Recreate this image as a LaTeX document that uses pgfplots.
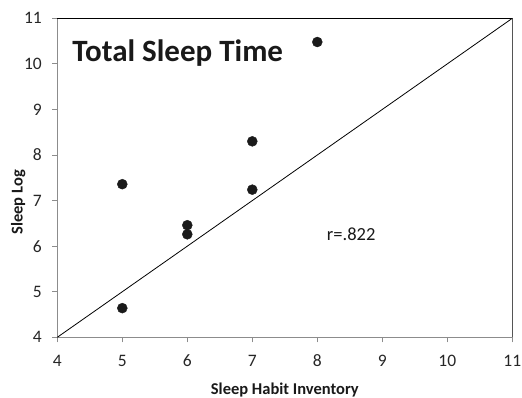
\documentclass[border=0pt]{standalone}
\usepackage{fontspec}
\setmainfont{Carlito}
\usepackage{pgfplots}
\pgfplotsset{compat=1.18}
\definecolor{spinegray}{HTML}{8C8C8C}
\definecolor{spinedark}{HTML}{555555}
\definecolor{dotcol}{HTML}{1A1A1A}
\begin{document}
\begin{tikzpicture}
\useasboundingbox (-57.3pt,-60pt) rectangle (464.7pt,337.3pt);
\begin{axis}[
  scale only axis,
  width=455pt, height=319pt,
  xmin=4, xmax=11, ymin=4, ymax=11,
  xtick={4,...,11}, ytick={4,...,11},
  axis line style={draw=none},
  tick align=outside,
  major tick length=5pt,
  tick style={spinegray, line width=0.8pt},
  xtick pos=bottom, ytick pos=left,
  /pgf/number format/assume math mode=true,
  ticklabel style={font=\fontsize{17.5}{17.5}\selectfont, text=black!85},
  xticklabel style={anchor=base, yshift=-24pt},
  yticklabel style={anchor=east, xshift=-7pt},
  clip=false,
]
% frame: light left/bottom, dark top/right
\draw[spinegray, line width=0.9pt] (rel axis cs:0,1) -- (rel axis cs:0,0) -- (rel axis cs:1,0);
\draw[black, line width=0.9pt] (rel axis cs:0,1) -- (rel axis cs:1,1);
\draw[spinedark, line width=0.9pt] (rel axis cs:1,1) -- (rel axis cs:1,0);

% line of identity
\addplot[black, line width=0.8pt] coordinates {(4,4) (11,11)};

% sleep habit inventory vs sleep log
\addplot[only marks, mark=*, mark size=5pt, mark options={fill=dotcol, draw=dotcol}] coordinates {
  (5,4.64) (5,7.36) (6,6.46) (6,6.26) (7,7.24) (7,8.30) (8,10.48)
};

\node[anchor=base west, inner sep=0, font=\bfseries\fontsize{31}{31}\selectfont, text=black!90]
  at (axis cs:4.23,10.06) {Total Sleep Time};
\node[anchor=base west, inner sep=0, font=\fontsize{18.5}{18.5}\selectfont, text=black!90]
  at (axis cs:8.145,6.13) {r=.822};
\end{axis}
\node[anchor=base, inner sep=0, font=\bfseries\fontsize{16.5}{16.5}\selectfont, text=black!90]
  at (227.5pt,-57pt) {Sleep Habit Inventory};
\node[rotate=90, inner sep=0, font=\bfseries\fontsize{16.5}{16.5}\selectfont, text=black!90]
  at (-39pt,135pt) {Sleep Log};
\end{tikzpicture}
\end{document}
